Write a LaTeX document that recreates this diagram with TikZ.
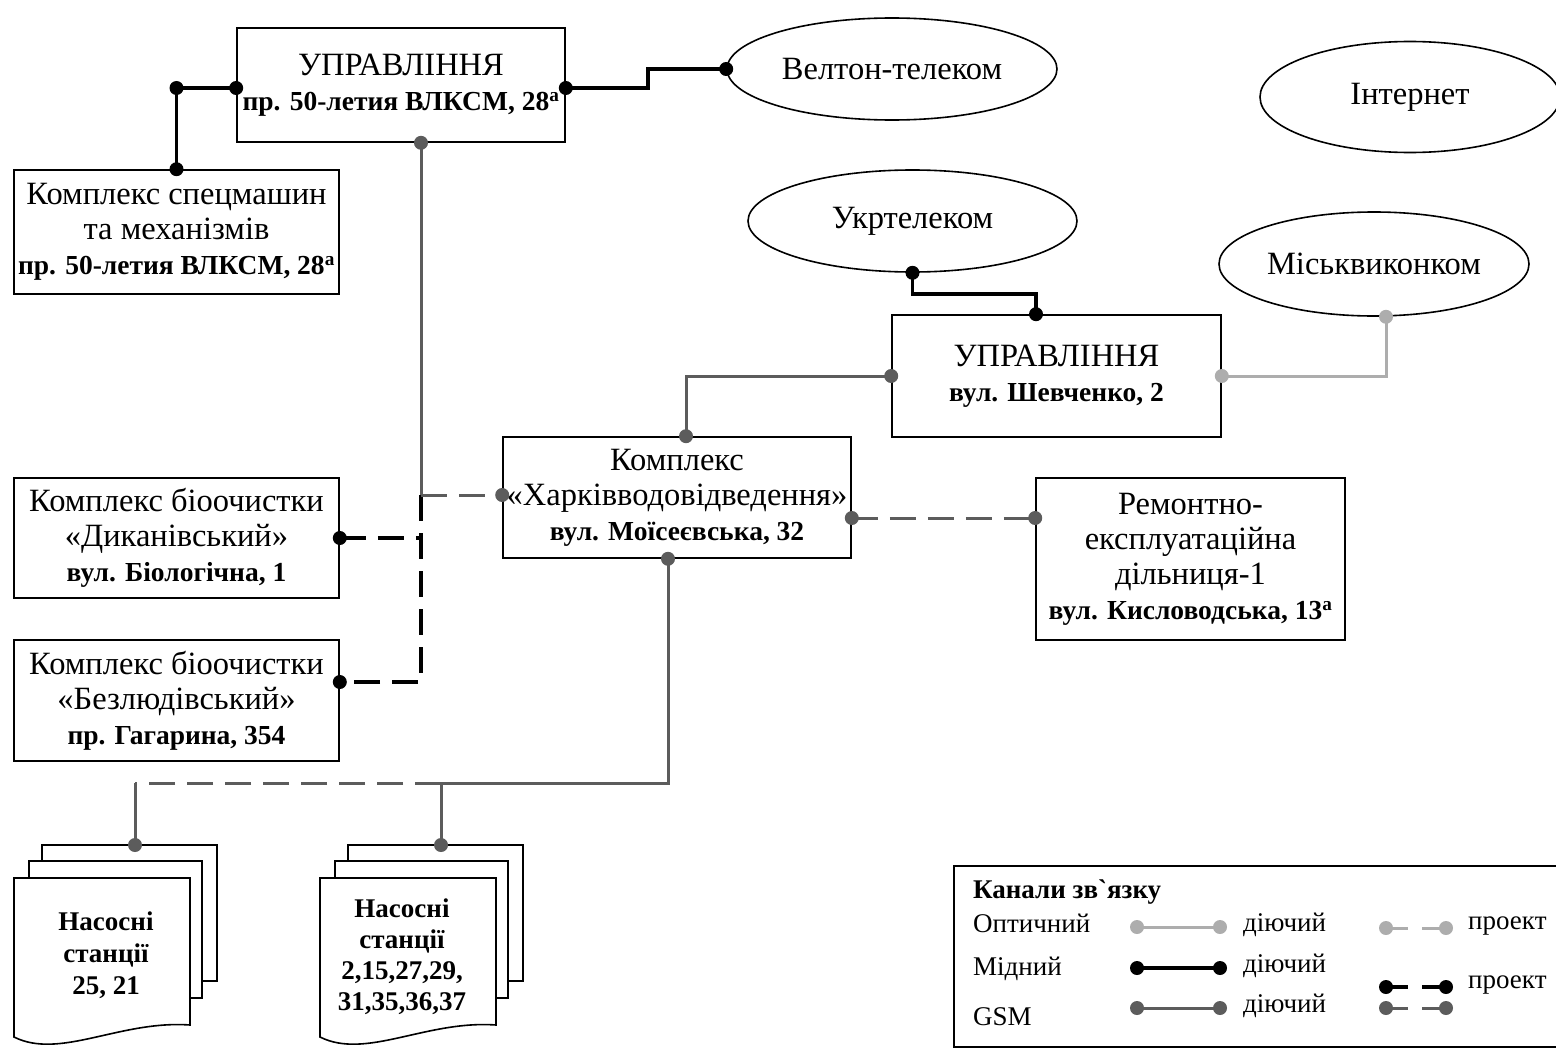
\documentclass[tikz,border=0pt]{standalone}
\usepackage{fontspec}
\setmainfont{Liberation Serif}
\usetikzlibrary{shapes.geometric}

\definecolor{gsm}{gray}{0.36}
\definecolor{opt}{gray}{0.68}

\newcommand\mainfs{\fontsize{32.5}{35}\selectfont}
\newcommand\adrfont{\fontsize{27.5}{35}\selectfont\bfseries}
\newcommand\legfs{\fontsize{27}{30}\selectfont}
\newcommand\jdot[2]{\fill[#1] #2 circle (7pt);}

\tikzset{
  box/.style={draw, line width=1.6pt, rectangle, inner sep=0pt, align=center, font=\mainfs},
  oval/.style={draw, ellipse, line width=1.6pt, inner sep=0pt, font=\mainfs},
  cu/.style={line width=3.4pt, draw=black},
  gsmln/.style={line width=3pt, draw=gsm},
  optln/.style={line width=3pt, draw=opt},
  proj/.style={dash pattern=on 26pt off 12pt},
  legproj/.style={dash pattern=on 22pt off 14pt},
  pstext/.style={align=center, inner sep=0pt},
  legtxt/.style={anchor=west, inner sep=0pt, font=\legfs},
  sheet/.style={line width=1.6pt, fill=white},
}

\begin{document}
\begin{tikzpicture}[x=1pt, y=-1pt]
\useasboundingbox (0,0) rectangle (1556,1049);

% ---------- offices and complexes ----------
\node[box, minimum width=328pt, minimum height=114pt] (upr1) at (401,85)
  {УПРАВЛІННЯ\\ {\adrfont пр. 50-летия ВЛКСМ, 28\textsuperscript{a}}};
\node[box, minimum width=325pt, minimum height=124pt] (spets) at (176.5,232)
  {Комплекс спецмашин\\ та механізмів\\ {\adrfont пр. 50-летия ВЛКСМ, 28\textsuperscript{a}}};
\node[box, minimum width=329pt, minimum height=122pt] (upr2) at (1056.5,376)
  {УПРАВЛІННЯ\\ {\adrfont вул. Шевченко, 2}};
\node[box, minimum width=348pt, minimum height=121pt] (kh) at (677,497.5)
  {Комплекс\\ «Харківводовідведення»\\ {\adrfont вул. Моїсеєвська, 32}};
\node[box, minimum width=325pt, minimum height=120pt] (dik) at (176.5,538)
  {Комплекс біоочистки\\ «Диканівський»\\ {\adrfont вул. Біологічна, 1}};
\node[box, minimum width=325pt, minimum height=121pt] (bez) at (176.5,700.5)
  {Комплекс біоочистки\\ «Безлюдівський»\\ {\adrfont пр. Гагарина, 354}};
\node[box, minimum width=309pt, minimum height=162pt] (rem) at (1190.5,559)
  {Ремонтно-\\ експлуатаційна\\ дільниця-1\\ {\adrfont вул. Кисловодська, 13\textsuperscript{a}}};

% ---------- external networks ----------
\node[oval, minimum width=330pt, minimum height=102pt] (velton) at (892,69) {Велтон-телеком};
\node[oval, minimum width=300pt, minimum height=111pt] (inet) at (1410,97) {Інтернет};
\node[oval, minimum width=329pt, minimum height=102pt] (ukr) at (912.5,221) {Укртелеком};
\node[oval, minimum width=310pt, minimum height=104pt] (misk) at (1374,264) {Міськвиконком};

% ---------- pumping stations (stacked sheets) ----------
\foreach \dx in {0, 306}{
  \begin{scope}[shift={(\dx,0)}]
    \draw[sheet] (42,861) -- (42,845) -- (217,845) -- (217,981) -- (202,981);
    \draw[sheet] (29,878) -- (29,861) -- (202,861) -- (202,998) -- (190,998);
    \draw[sheet] (14,878) -- (190,878) -- (190,1025)
      .. controls (120,1020) and (60,1060) .. (14,1037) -- cycle;
  \end{scope}
}
\node[pstext, font=\fontsize{27}{32}\selectfont\bfseries] (ps1) at (106,955)
  {Насосні\\ станції\\ 25, 21};
\node[pstext, font=\fontsize{27}{31}\selectfont\bfseries] (ps2) at (402,957)
  {Насосні\\ станції\\ 2,15,27,29,\\ 31,35,36,37};
\coordinate (ps1top) at (135,845);
\coordinate (ps2top) at (441,845);

% ---------- connection points ----------
\coordinate (c1) at ([yshift=-3pt]upr1.west);
\coordinate (c2) at ([yshift=-3pt]upr1.east);
\coordinate (c3) at ([xshift=-20.5pt]upr2.north);
\coordinate (c4) at ([xshift=12pt]misk.south);
\coordinate (c5) at ([xshift=9pt]kh.north);
\coordinate (c6) at ([xshift=20pt]upr1.south);
\coordinate (c7) at ([yshift=2.5pt]kh.west);
\coordinate (j1) at (c6 |- c7);
\coordinate (c8) at ([yshift=18.5pt]bez.east);
\coordinate (c9) at ([yshift=-20.5pt]kh.east);
\coordinate (c10) at (c9 -| rem.west);
\coordinate (c11) at ([xshift=-9pt]kh.south);
\coordinate (bus1) at (135,783);
\coordinate (bus2) at (441,783);
\coordinate (k1) at (c1 -| spets.north);

% ---------- copper lines ----------
\draw[cu] (c1) -- (k1) -- (spets.north);
\draw[cu] (c2) -- ++(82,0) |- (velton.west);
\draw[cu] (ukr.south) -- ++(0,21) -| (c3);
\draw[cu, proj] (dik.east) -- (dik.east -| j1);
\draw[cu, proj] (j1) -- (j1 |- c8) -- (c8);

% ---------- GSM lines ----------
\draw[gsmln] (upr2.west) -| (c5);
\draw[gsmln] (c6) -- (j1);
\draw[gsmln, proj] (j1) -- (c7);
\draw[gsmln, proj] (c9) -- (c10);
\draw[gsmln] (c11) |- (bus2) -- (ps2top);
\draw[gsmln, proj] (bus2) -- (bus1);
\draw[gsmln] (bus1) -- (ps1top);

% ---------- optical line ----------
\draw[optln] (upr2.east) -| (c4);

% ---------- junction dots ----------
\jdot{black}{(c1)} \jdot{black}{(k1)} \jdot{black}{(spets.north)}
\jdot{black}{(c2)} \jdot{black}{(velton.west)}
\jdot{black}{(ukr.south)} \jdot{black}{(c3)}
\jdot{black}{(dik.east)} \jdot{black}{(c8)}
\jdot{gsm}{(upr2.west)} \jdot{gsm}{(c5)} \jdot{gsm}{(c6)} \jdot{gsm}{(c7)}
\jdot{gsm}{(c9)} \jdot{gsm}{(c10)} \jdot{gsm}{(c11)}
\jdot{gsm}{(ps1top)} \jdot{gsm}{(ps2top)}
\jdot{opt}{(upr2.east)} \jdot{opt}{(c4)}

% ---------- legend ----------
\draw[line width=1.6pt] (954,866) rectangle (1600,1047);
\node[legtxt, font=\legfs\bfseries] (lgtitle) at (973,892) {Канали зв\textasciigrave язку};
\node[legtxt] (lgopt) at (973,923) {Оптичний};
\node[legtxt] (lgcu) at (973,969) {Мідний};
\node[legtxt] (lggsm) at (973,1017) {GSM};

\coordinate (lo1) at (1137,927);  \coordinate (lo2) at (1220,927);
\coordinate (lc1) at (1137,968);  \coordinate (lc2) at (1220,968);
\coordinate (lg1) at (1137,1008); \coordinate (lg2) at (1220,1008);
\draw[optln] (lo1) -- (lo2); \jdot{opt}{(lo1)} \jdot{opt}{(lo2)}
\draw[cu] (lc1) -- (lc2); \jdot{black}{(lc1)} \jdot{black}{(lc2)}
\draw[gsmln] (lg1) -- (lg2); \jdot{gsm}{(lg1)} \jdot{gsm}{(lg2)}
\node[legtxt] (lgo) at (1243,925) {діючий};
\node[legtxt] (lgc) at (1243,966) {діючий};
\node[legtxt] (lgg) at (1243,1006) {діючий};

\coordinate (po1) at (1386,928);  \coordinate (po2) at (1446,928);
\coordinate (pc1) at (1386,987);  \coordinate (pc2) at (1446,987);
\coordinate (pg1) at (1386,1008); \coordinate (pg2) at (1446,1008);
\draw[optln, legproj] (po1) -- (po2); \jdot{opt}{(po1)} \jdot{opt}{(po2)}
\draw[cu, legproj] (pc1) -- (pc2); \jdot{black}{(pc1)} \jdot{black}{(pc2)}
\draw[gsmln, legproj] (pg1) -- (pg2); \jdot{gsm}{(pg1)} \jdot{gsm}{(pg2)}
\node[legtxt] (lpo) at (1468,926) {проект};
\node[legtxt] (lpc) at (1468,985) {проект};
\end{tikzpicture}
\end{document}
